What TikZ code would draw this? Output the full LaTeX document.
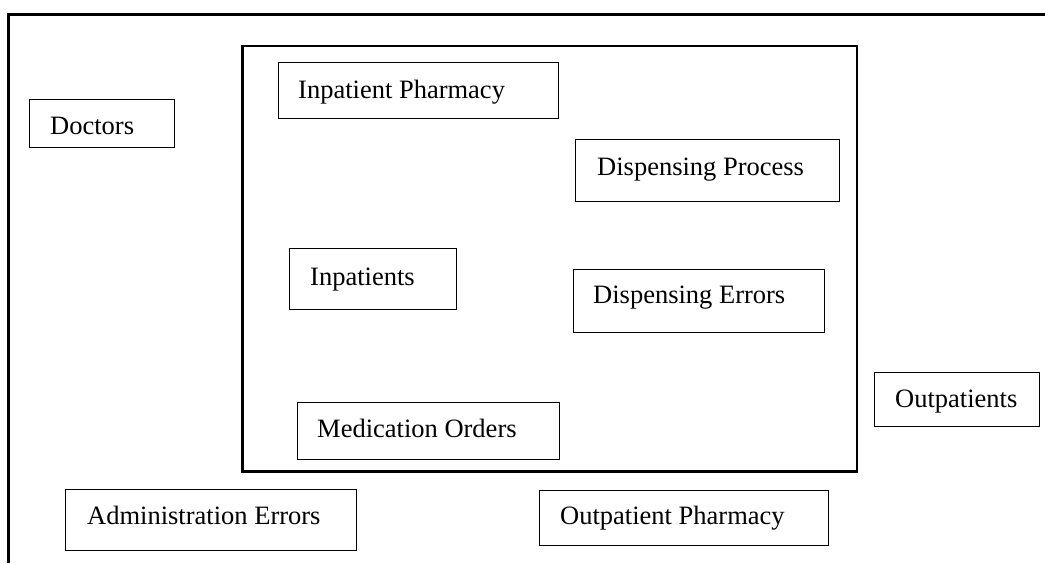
\documentclass[tikz,border=0pt]{standalone}
\usepackage{fontspec}
\setmainfont{Liberation Serif}
\begin{document}
\begin{tikzpicture}[x=1pt,y=-1pt,
  box/.style={draw, line width=1.2pt, inner sep=0pt, anchor=north west},
  lbl/.style={anchor=base west, inner sep=0pt, font=\fontsize{26.5}{30}\selectfont},
  frame/.style={line width=2.6pt}]
\useasboundingbox (0,0) rectangle (1045,563);

% outer frame (open at right and bottom)
\draw[frame] (1045,14.3) -- (8.3,14.3) -- (8.3,563);
% inner frame
\draw[frame] (242.7,45.8) rectangle (857,471.7);

% boxes: top-left corner, size
\node[box, minimum width=280, minimum height=56] (inpharm) at (278,62) {};
\node[lbl] (inpharmT) at (298,98) {Inpatient Pharmacy};

\node[box, minimum width=145, minimum height=48] (doctors) at (29,99) {};
\node[lbl] (doctorsT) at (50,134) {Doctors};

\node[box, minimum width=264, minimum height=62] (dproc) at (575,139) {};
\node[lbl] (dprocT) at (597,175) {Dispensing Process};

\node[box, minimum width=167, minimum height=61] (inpat) at (289,248) {};
\node[lbl] (inpatT) at (310,285) {Inpatients};

\node[box, minimum width=251, minimum height=63] (derr) at (573,269) {};
\node[lbl] (derrT) at (593,303) {Dispensing Errors};

\node[box, minimum width=165, minimum height=54] (outpat) at (874,372) {};
\node[lbl] (outpatT) at (895,407) {Outpatients};

\node[box, minimum width=262, minimum height=57] (medord) at (297,402) {};
\node[lbl] (medordT) at (317,437) {Medication Orders};

\node[box, minimum width=291, minimum height=61] (adminerr) at (65,489) {};
\node[lbl] (adminerrT) at (87,524) {Administration Errors};

\node[box, minimum width=289, minimum height=55] (outpharm) at (539,490) {};
\node[lbl] (outpharmT) at (560,524) {Outpatient Pharmacy};
\end{tikzpicture}
\end{document}
